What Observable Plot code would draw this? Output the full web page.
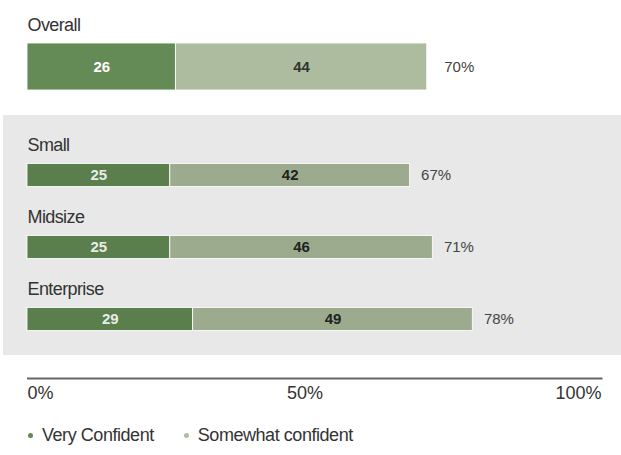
<!DOCTYPE html>
<html>
<head>
<meta charset="utf-8">
<script src="https://cdn.jsdelivr.net/npm/d3@7"></script>
<script src="https://cdn.jsdelivr.net/npm/@observablehq/plot@0.6"></script>
<style>
  body { margin: 0; background: #fff; width: 621px; height: 455px; overflow: hidden;
         font-family: "Liberation Sans", sans-serif; color: #333; }
  svg { display: block; }
  #panel { margin-left: 3px; width: 618px; height: 240px; background: #e7e8e7; }
  #legend { display: flex; margin: 7px 0 0 28px; font-size: 18px; line-height: 20px; letter-spacing: -0.45px; color: #333; }
  #legend .item { display: flex; align-items: center; margin-right: 30px; }
  #legend .dot { width: 5px; height: 5px; border-radius: 50%; margin-right: 9px; }
  .cat-label { letter-spacing: -0.6px; }
</style>
</head>
<body>
<div id="overall"></div>
<div id="panel"></div>
<div id="axis"></div>
<div id="legend"></div>
<script>
// ---- data ----
const categories = ["Overall", "Small", "Midsize", "Enterprise"];
const seriesNames = ["Very Confident", "Somewhat confident"];
const veryConfident = [26, 25, 25, 29];
const somewhatConfident = [44, 42, 46, 49];
const xTicks = [0, 50, 100];

// ---- build stacked table ----
const rows = categories.flatMap((c, i) => {
  const a = veryConfident[i], b = somewhatConfident[i];
  return [
    {category: c, series: seriesNames[0], value: a, x1: 0, x2: a},
    {category: c, series: seriesNames[1], value: b, x1: a, x2: a + b}
  ];
});
const totals = categories.map((c, i) => ({category: c, total: veryConfident[i] + somewhatConfident[i]}));

function rowsChart(cats, o) {
  const data = rows.filter(d => cats.includes(d.category));
  const tot = totals.filter(d => cats.includes(d.category));
  return Plot.plot({
    width: o.width, height: o.height,
    marginLeft: o.ml, marginRight: o.mr, marginTop: o.mt, marginBottom: o.mb,
    x: {domain: [0, 100], axis: null},
    y: {domain: cats, axis: null, padding: 0},
    color: {domain: seriesNames, range: o.colors},
    style: {background: "transparent", overflow: "visible", fontFamily: "Liberation Sans, sans-serif"},
    marks: [
      Plot.barX(data, {x1: "x1", x2: "x2", y: "category", fill: "series",
        stroke: "#fff", strokeWidth: 1, strokeOpacity: 0.85, insetTop: o.inset, insetBottom: o.inset}),
      Plot.text(data.filter(d => d.series === seriesNames[0]), {
        x: d => (d.x1 + d.x2) / 2, y: "category", text: "value",
        fill: o.darkText, fontWeight: "bold", fontSize: 15}),
      Plot.text(data.filter(d => d.series === seriesNames[1]), {
        x: d => (d.x1 + d.x2) / 2, y: "category", text: "value",
        fill: o.lightText, fontWeight: "bold", fontSize: 15}),
      Plot.text(cats, {y: d => d, text: d => d, frameAnchor: "left", textAnchor: "start",
        dy: o.labelDy, fontSize: 18, fill: "#333", className: "cat-label"}),
      Plot.text(tot, {x: "total", y: "category", text: d => d.total + "%", textAnchor: "start",
        dx: o.pctDx, fontSize: 15, fill: "#444"})
    ]
  });
}

document.getElementById("overall").append(rowsChart(["Overall"], {
  width: 621, height: 115, ml: 27, mr: 23, mt: 43, mb: 25, inset: 0,
  colors: ["#648a56", "#adbc9f"], darkText: "#ffffff", lightText: "#333333",
  labelDy: -42, pctDx: 17
}));

document.getElementById("panel").append(rowsChart(["Small", "Midsize", "Enterprise"], {
  width: 618, height: 240, ml: 24, mr: 23, mt: 23.5, mb: 0.5, inset: 24.5,
  colors: ["#5a7e4c", "#9cab8e"], darkText: "#e9ece6", lightText: "#222222",
  labelDy: -30.5, pctDx: 11
}));

const tickAnchors = ["start", "middle", "end"];
const tickDx = [0, -8, 3];
document.getElementById("axis").append(Plot.plot({
  width: 621, height: 63, marginLeft: 27, marginRight: 23, marginTop: 0, marginBottom: 40,
  x: {domain: [0, 100], axis: null},
  y: {domain: [0, 1], axis: null},
  style: {background: "transparent", overflow: "visible", fontFamily: "Liberation Sans, sans-serif"},
  marks: [
    Plot.ruleY([0], {x1: 0, x2: 100, stroke: "#666", strokeWidth: 2, insetRight: -4.5}),
    ...xTicks.map((t, i) => Plot.text([t], {x: d => d, text: d => d + "%", frameAnchor: "bottom",
      dy: 20, dx: tickDx[i], textAnchor: tickAnchors[i], fontSize: 18, fill: "#333"}))
  ]
}));

const legendColors = ["#5f8852", "#adbf9f"];
const legend = document.getElementById("legend");
seriesNames.forEach((s, i) => {
  const item = document.createElement("div");
  item.className = "item";
  const dot = document.createElement("span");
  dot.className = "dot";
  dot.style.background = legendColors[i];
  const label = document.createElement("span");
  label.textContent = s;
  item.append(dot, label);
  legend.append(item);
});
</script>
</body>
</html>
